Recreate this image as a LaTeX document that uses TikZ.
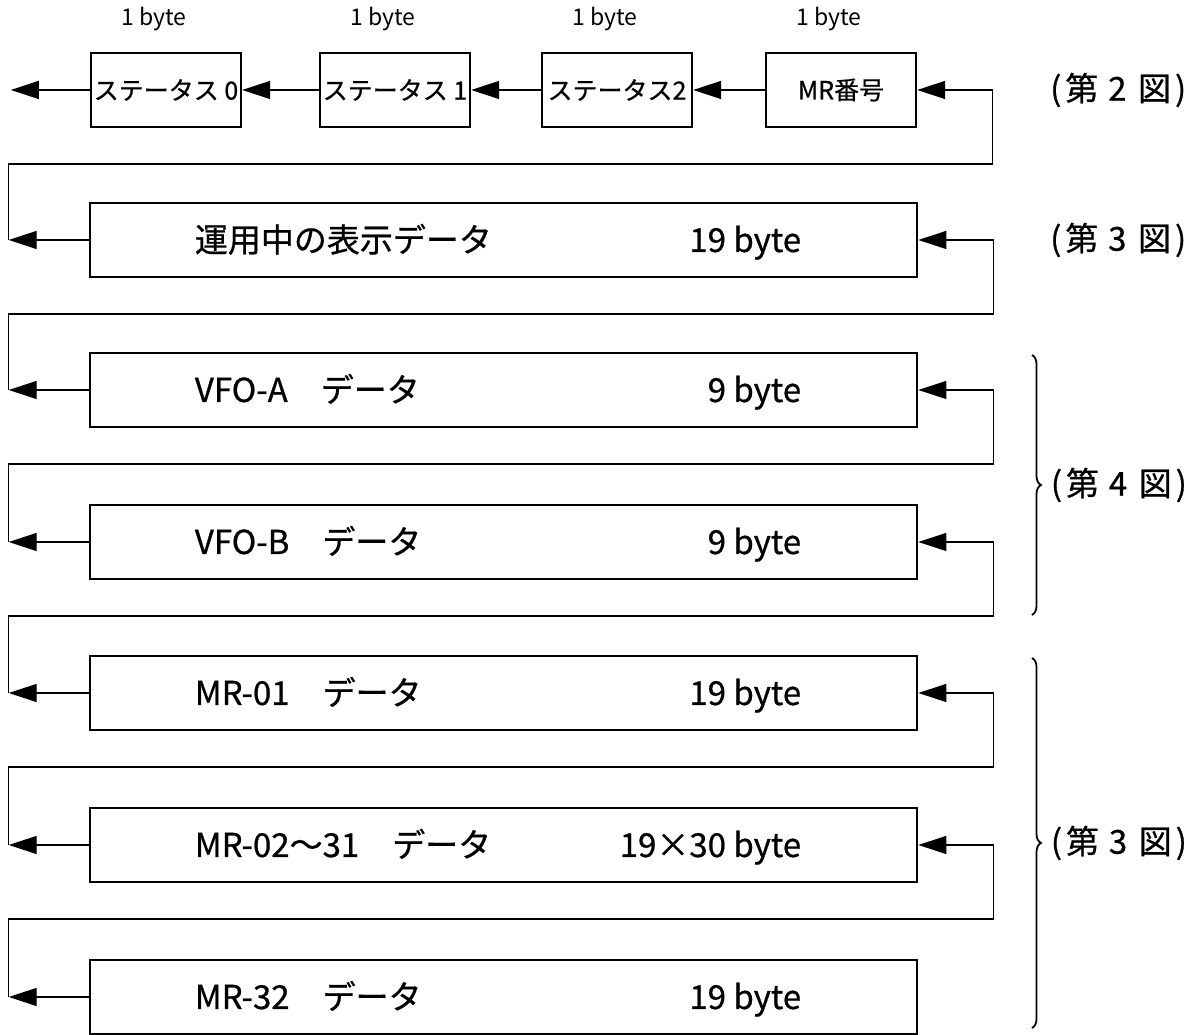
\documentclass[tikz,border=0pt]{standalone}
\usepackage{fontspec}
\setmainfont{Noto Sans CJK JP}
\newfontfamily\medio{Noto Sans CJK JP}[FakeBold=0.7]
\usetikzlibrary{arrows.meta,positioning,decorations.pathreplacing}
\newcommand\zu[1]{(\hspace{.12em}第\hspace{.3em}#1\hspace{.35em}図\hspace{.12em})}
\tikzset{
  caja/.style={draw, line width=2.4pt, minimum width=150pt, minimum height=74pt,
    inner sep=0pt, font=\medio\fontsize{25}{25}\selectfont},
  fila/.style={draw, line width=2.6pt, minimum width=827pt, minimum height=74pt, inner sep=0pt},
  txt/.style={font=\medio\fontsize{33}{33}\selectfont, inner sep=0pt},
  bytelbl/.style={font=\fontsize{23}{23}\selectfont, inner sep=0pt},
  etiq/.style={font=\medio\fontsize{33}{33}\selectfont, inner sep=0pt},
  flecha/.style={line width=1.3pt, -{Triangle[length=28pt,width=18pt]}},
  llave/.style={line width=1.8pt, decorate, decoration={brace, amplitude=9pt}}
}
\begin{document}
\begin{tikzpicture}[x=1pt,y=1pt]
    \useasboundingbox (0,0) rectangle (1200,1035);
    % Fila superior
    \node[caja] (st0) at (166,945) {ステータス 0};
    \node[caja] (st1) at (395,945) {ステータス 1};
    \node[caja] (st2) at (617,945) {ステータス2};
    \node[caja] (mrno) at (841,945) {MR番号};
    \foreach \n in {st0,st1,st2,mrno}
        \node[bytelbl] (\n-b) at ([xshift=-12pt,yshift=33pt]\n.north) {1 byte};
    \draw[flecha] (st0.west) -- ++(-79pt,0) coordinate (st0-l);
    \draw[flecha] (st1.west) -- (st0.east);
    \draw[flecha] (st2.west) -- (st1.east);
    \draw[flecha] (mrno.west) -- (st2.east);
    % Bloques de datos
    \foreach \n/\y/\izq/\der in {disp/795/運用中の表示データ/19 byte,
        vfoa/645/VFO-A　データ/9 byte, vfob/493/VFO-B　データ/9 byte,
        mr01/342/MR-01　データ/19 byte, mr02/190/MR-02〜31　データ/19×30 byte,
        mr32/38/MR-32　データ/19 byte} {
        \node[fila] (\n) at (503.5,\y) {};
        \node[txt, anchor=base west] (\n-i) at ([xshift=106pt,yshift=-12pt]\n.west) {\izq};
        \node[txt, anchor=base east] (\n-d) at ([xshift=-117pt,yshift=-12pt]\n.east) {\der};
    }
    % Conexiones
    \foreach \lo/\up in {disp/mrno, vfoa/disp, vfob/vfoa, mr01/vfob, mr02/mr01, mr32/mr02} {
        \draw[flecha] (\lo.west) -- ++(-80pt,0) coordinate (\lo-l);
        \draw[flecha] (\lo-l) |- ([xshift=75pt,yshift=-74pt]\up.east) |- (\up.east);
    }
    % Referencias
    \node[etiq, anchor=west] (f2) at (1050,945) {\zu{2}};
    \node[etiq, anchor=west] (f3a) at (1050,795) {\zu{3}};
    \coordinate (l4a) at (1032,680);
    \coordinate (l4b) at (1032,420);
    \draw[llave] (l4a) -- (l4b) node[midway, right=18pt, etiq] (f4) {\zu{4}};
    \coordinate (l3a) at (1032,377);
    \coordinate (l3b) at (1032,7);
    \draw[llave] (l3a) -- (l3b) node[midway, right=18pt, etiq] (f3b) {\zu{3}};
\end{tikzpicture}
\end{document}
